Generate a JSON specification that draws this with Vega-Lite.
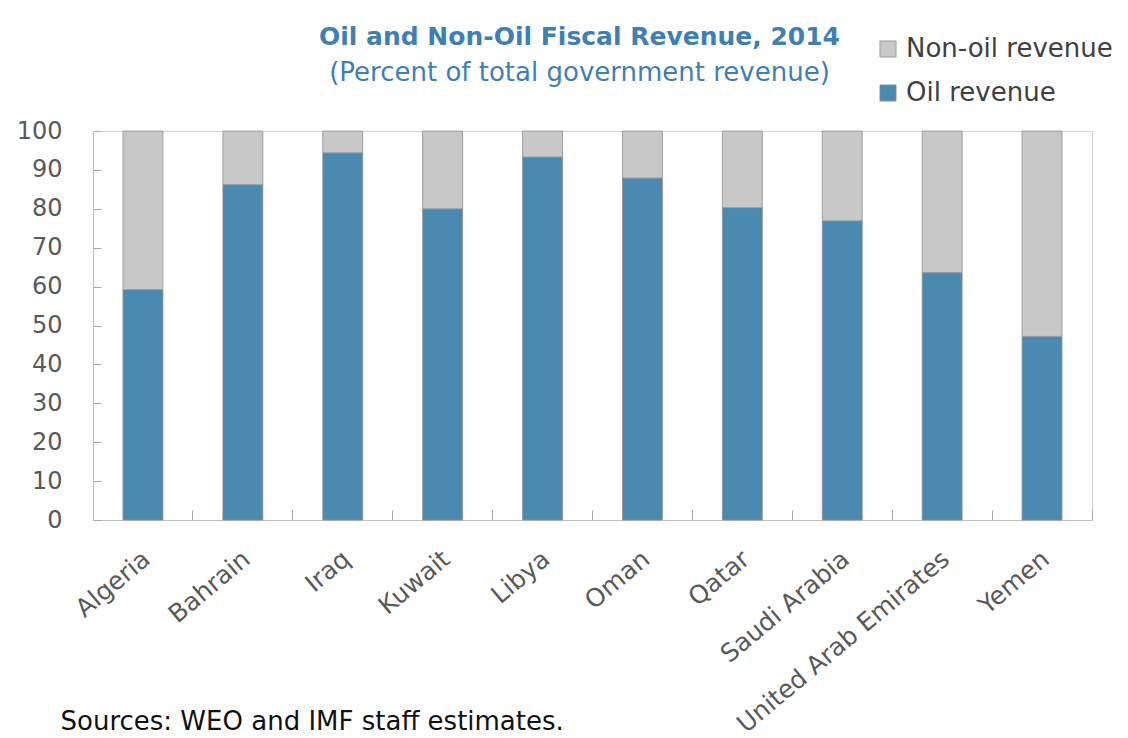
{
  "$schema": "https://vega.github.io/schema/vega-lite/v6.json",
  "width": 999,
  "height": 389,
  "autosize": "none",
  "padding": {"left": 93, "top": 131, "right": 36, "bottom": 218},
  "background": "white",
  "config": {"view": {"stroke": "#d0d0d0", "strokeWidth": 1}},
  "title": {
    "text": "Oil and Non-Oil Fiscal Revenue, 2014",
    "subtitle": "(Percent of total government revenue)",
    "font": "DejaVu Sans", "fontSize": 25, "fontWeight": "bold", "color": "#3f7fb3",
    "subtitleFont": "DejaVu Sans", "subtitleFontSize": 26, "subtitleColor": "#3f7fb3",
    "subtitlePadding": 10, "offset": -50, "anchor": "middle", "dx": -13
  },
  "data": {"values": [
    {"country": "Algeria", "type": "Oil revenue", "value": 59.2},
    {"country": "Algeria", "type": "Non-oil revenue", "value": 40.8},
    {"country": "Bahrain", "type": "Oil revenue", "value": 86.2},
    {"country": "Bahrain", "type": "Non-oil revenue", "value": 13.8},
    {"country": "Iraq", "type": "Oil revenue", "value": 94.4},
    {"country": "Iraq", "type": "Non-oil revenue", "value": 5.6},
    {"country": "Kuwait", "type": "Oil revenue", "value": 80.0},
    {"country": "Kuwait", "type": "Non-oil revenue", "value": 20.0},
    {"country": "Libya", "type": "Oil revenue", "value": 93.3},
    {"country": "Libya", "type": "Non-oil revenue", "value": 6.7},
    {"country": "Oman", "type": "Oil revenue", "value": 87.9},
    {"country": "Oman", "type": "Non-oil revenue", "value": 12.1},
    {"country": "Qatar", "type": "Oil revenue", "value": 80.3},
    {"country": "Qatar", "type": "Non-oil revenue", "value": 19.7},
    {"country": "Saudi Arabia", "type": "Oil revenue", "value": 76.9},
    {"country": "Saudi Arabia", "type": "Non-oil revenue", "value": 23.1},
    {"country": "United Arab Emirates", "type": "Oil revenue", "value": 63.6},
    {"country": "United Arab Emirates", "type": "Non-oil revenue", "value": 36.4},
    {"country": "Yemen", "type": "Oil revenue", "value": 47.2},
    {"country": "Yemen", "type": "Non-oil revenue", "value": 52.8}
  ]},
  "mark": {"type": "bar", "stroke": "#8f8f8f", "strokeWidth": 0.8},
  "encoding": {
    "x": {
      "field": "country", "type": "nominal", "sort": null,
      "scale": {"paddingInner": 0.6, "paddingOuter": 0.3},
      "axis": {
        "bandPosition": 1.75, "tickSize": -10, "tickColor": "#a8a8a8", "tickWidth": 1,
        "domainColor": "#bfbfbf", "labelAngle": -40, "labelAlign": "right", "labelBaseline": "top",
        "labelFont": "DejaVu Sans", "labelFontSize": 25, "labelColor": "#595959", "labelPadding": 36,
        "labelOffset": -4, "labelLimit": 600,
        "title": "Sources: WEO and IMF staff estimates.",
        "titleFont": "DejaVu Sans", "titleFontSize": 26, "titleFontWeight": "normal", "titleColor": "#111111",
        "titleAnchor": "start", "titleAlign": "left", "titleBaseline": "alphabetic", "titleX": -33, "titleY": 209
      }
    },
    "y": {
      "field": "value", "type": "quantitative", "stack": "zero",
      "scale": {"domain": [0, 100], "nice": false},
      "axis": {
        "values": [0, 10, 20, 30, 40, 50, 60, 70, 80, 90, 100],
        "grid": false, "tickSize": -8, "tickColor": "#a8a8a8", "domainColor": "#bfbfbf",
        "labelFont": "DejaVu Sans", "labelFontSize": 24, "labelColor": "#595959", "labelPadding": 39,
        "title": null
      }
    },
    "color": {
      "field": "type", "type": "nominal",
      "scale": {"domain": ["Non-oil revenue", "Oil revenue"], "range": ["#c8c8c8", "#4a8ab1"]},
      "legend": {
        "title": null, "orient": "none", "legendX": 782, "legendY": -95, "direction": "vertical",
        "symbolType": "square", "symbolSize": 260, "symbolStrokeColor": "#8f8f8f", "symbolStrokeWidth": 0.8,
        "labelFont": "DejaVu Sans", "labelFontSize": 26, "labelColor": "#404040", "labelOffset": 5, "rowPadding": 18,
        "labelLimit": 400
      }
    },
    "order": {"field": "type", "sort": "descending"}
  }
}
